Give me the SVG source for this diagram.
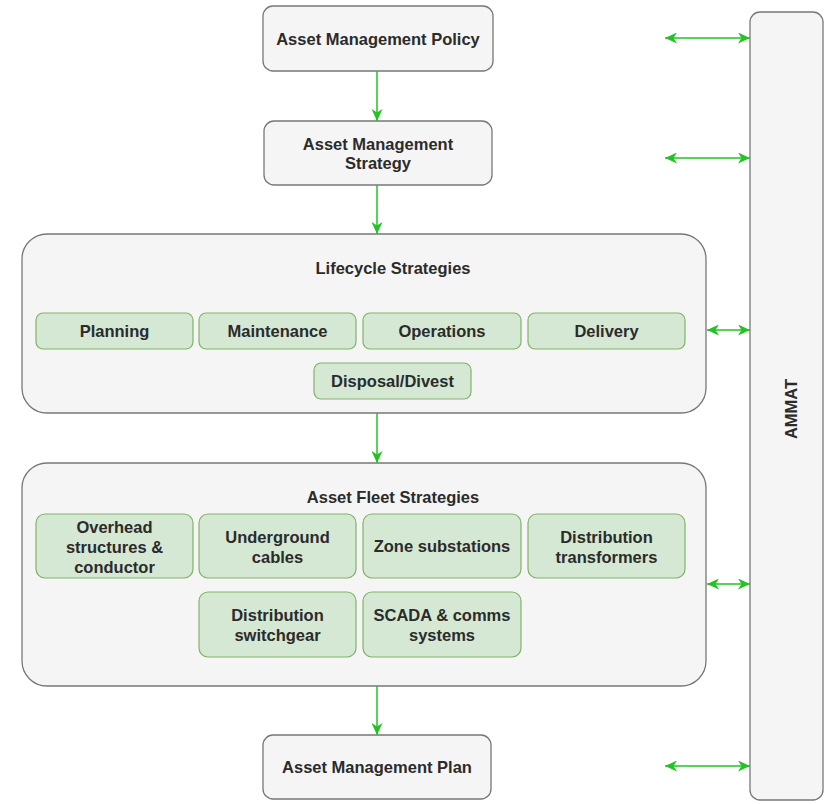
<svg xmlns="http://www.w3.org/2000/svg" width="825" height="804" viewBox="0 0 825 804">
<style>
.box{fill:#f5f5f5;stroke:#777777;stroke-width:1.3}
.item{fill:#d5e8d4;stroke:#82b366;stroke-width:1.2}
.t{font-family:"Liberation Sans",Arial,sans-serif;font-weight:bold;font-size:16.5px;fill:#2b2b2b;text-anchor:middle;dominant-baseline:central}
.c{fill:none;stroke:#22c322;stroke-width:1.5}
</style>
<defs>
<marker id="ah" viewBox="0 0 12 11" refX="12" refY="5.5" markerWidth="12" markerHeight="11" markerUnits="userSpaceOnUse" orient="auto-start-reverse">
<path d="M0,0 L12,5.5 L0,11 L3.5,5.5 z" fill="#22c322"/>
</marker>
</defs>
<rect width="825" height="804" fill="#ffffff"/>
<g id="ammat">
<rect class="box" x="750" y="12" width="73" height="788" rx="10"/>
<text class="t" transform="translate(791,409) rotate(-90)">AMMAT</text>
</g>
<g id="policy">
<rect class="box" x="263" y="6" width="230" height="65" rx="10"/>
<text class="t" x="378" y="39">Asset Management Policy</text>
</g>
<g id="strategy">
<rect class="box" x="264" y="121" width="228" height="64" rx="10"/>
<text class="t" x="378" y="144">Asset Management</text>
<text class="t" x="378" y="163">Strategy</text>
</g>
<g id="lifecycle">
<rect class="box" x="22" y="234" width="684" height="179" rx="25"/>
<text class="t" x="393" y="268">Lifecycle Strategies</text>
</g>
<g id="planning">
<rect class="item" x="36" y="313" width="157" height="36" rx="7"/>
<text class="t" x="114.5" y="331">Planning</text>
</g>
<g id="maintenance">
<rect class="item" x="199" y="313" width="157" height="36" rx="7"/>
<text class="t" x="277.5" y="331">Maintenance</text>
</g>
<g id="operations">
<rect class="item" x="363" y="313" width="158" height="36" rx="7"/>
<text class="t" x="442" y="331">Operations</text>
</g>
<g id="delivery">
<rect class="item" x="528" y="313" width="157" height="36" rx="7"/>
<text class="t" x="606.5" y="331">Delivery</text>
</g>
<g id="disposal">
<rect class="item" x="314" y="363" width="157" height="36" rx="7"/>
<text class="t" x="392.5" y="381">Disposal/Divest</text>
</g>
<g id="fleet">
<rect class="box" x="22" y="463" width="684" height="223" rx="25"/>
<text class="t" x="393" y="497">Asset Fleet Strategies</text>
</g>
<g id="overhead">
<rect class="item" x="36" y="514" width="157" height="64" rx="9"/>
<text class="t" x="114.5" y="527">Overhead</text>
<text class="t" x="114.5" y="547">structures &amp;</text>
<text class="t" x="114.5" y="567">conductor</text>
</g>
<g id="underground">
<rect class="item" x="199" y="514" width="157" height="64" rx="9"/>
<text class="t" x="277.5" y="537">Underground</text>
<text class="t" x="277.5" y="557">cables</text>
</g>
<g id="zone">
<rect class="item" x="363" y="514" width="158" height="64" rx="9"/>
<text class="t" x="442" y="546">Zone substations</text>
</g>
<g id="transformers">
<rect class="item" x="528" y="514" width="157" height="64" rx="9"/>
<text class="t" x="606.5" y="537">Distribution</text>
<text class="t" x="606.5" y="557">transformers</text>
</g>
<g id="switchgear">
<rect class="item" x="199" y="592" width="157" height="65" rx="9"/>
<text class="t" x="277.5" y="615">Distribution</text>
<text class="t" x="277.5" y="635">switchgear</text>
</g>
<g id="scada">
<rect class="item" x="363" y="592" width="158" height="65" rx="9"/>
<text class="t" x="442" y="615">SCADA &amp; comms</text>
<text class="t" x="442" y="635">systems</text>
</g>
<g id="plan">
<rect class="box" x="263" y="735" width="228" height="64" rx="10"/>
<text class="t" x="377" y="767">Asset Management Plan</text>
</g>
<g id="connectors">
<line class="c" x1="377" y1="71" x2="377" y2="121" marker-end="url(#ah)"/>
<line class="c" x1="377" y1="185" x2="377" y2="234" marker-end="url(#ah)"/>
<line class="c" x1="377" y1="413" x2="377" y2="463" marker-end="url(#ah)"/>
<line class="c" x1="377" y1="686" x2="377" y2="735" marker-end="url(#ah)"/>
<line class="c" x1="665" y1="38" x2="750" y2="38" marker-start="url(#ah)" marker-end="url(#ah)"/>
<line class="c" x1="665" y1="158" x2="750" y2="158" marker-start="url(#ah)" marker-end="url(#ah)"/>
<line class="c" x1="707" y1="330" x2="750" y2="330" marker-start="url(#ah)" marker-end="url(#ah)"/>
<line class="c" x1="707" y1="584" x2="750" y2="584" marker-start="url(#ah)" marker-end="url(#ah)"/>
<line class="c" x1="665" y1="766" x2="750" y2="766" marker-start="url(#ah)" marker-end="url(#ah)"/>
</g>
</svg>
